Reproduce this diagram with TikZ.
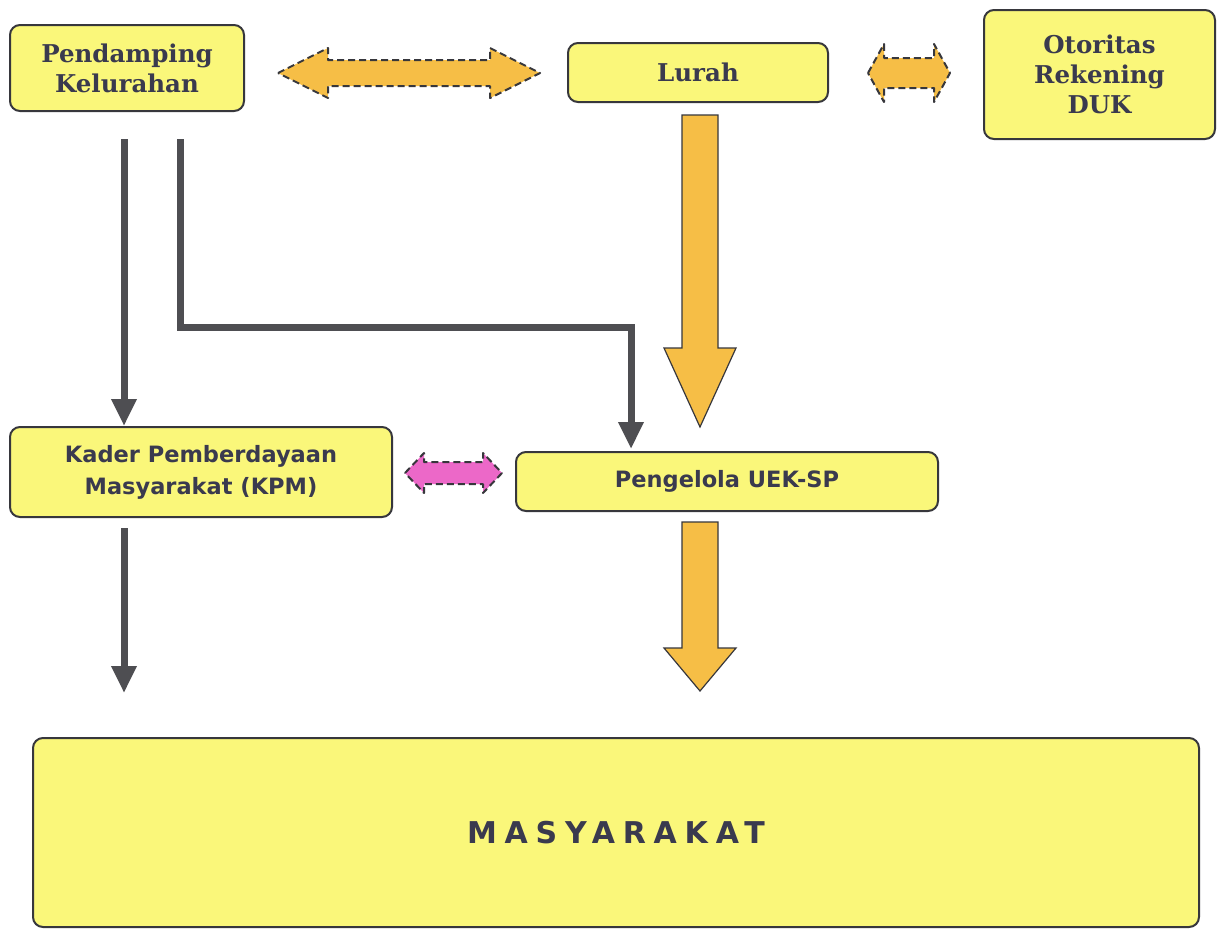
\documentclass[tikz,border=0pt]{standalone}
\usepackage{fontspec}
\setmainfont{DejaVu Serif}
\setsansfont{DejaVu Sans}
\usetikzlibrary{arrows.meta,calc}
\definecolor{boxfill}{RGB}{250,247,122}
\definecolor{boxline}{RGB}{55,55,60}
\definecolor{txt}{RGB}{58,58,78}
\definecolor{orng}{RGB}{246,190,70}
\definecolor{pnk}{RGB}{236,104,200}
\definecolor{gar}{RGB}{78,78,82}
\newcommand\hdbl[7]{%
  \filldraw[#1] (#2,#4) -- (#2+#5,#4-#7) -- (#2+#5,#4-#6) -- (#3-#5,#4-#6) -- (#3-#5,#4-#7) -- (#3,#4) -- (#3-#5,#4+#7) -- (#3-#5,#4+#6) -- (#2+#5,#4+#6) -- (#2+#5,#4+#7) -- cycle;}
\newcommand\vsgl[7]{%
  \filldraw[#1] (#2-#6,#3) -- (#2+#6,#3) -- (#2+#6,#4-#5) -- (#2+#7,#4-#5) -- (#2,#4) -- (#2-#7,#4-#5) -- (#2-#6,#4-#5) -- cycle;}
\begin{document}
\begin{tikzpicture}[x=1pt,y=-1pt,
  box/.style={draw=boxline,line width=2pt,fill=boxfill,rounded corners=10pt,
    align=center,text=txt,inner sep=0pt},
  serifbox/.style={box,font=\fontsize{24.5}{30}\selectfont\bfseries},
  sansbox/.style={box,font=\fontsize{22.5}{32}\selectfont\sffamily\bfseries},
  harrow/.style={fill=orng,draw=boxline,line width=2pt,dash pattern=on 7pt off 4pt,line join=round},
  parrow/.style={fill=pnk,draw=boxline,line width=2pt,dash pattern=on 7pt off 4pt,line join=round},
  varrow/.style={fill=orng,draw=boxline,line width=1.2pt,line join=miter},
  garrow/.style={draw=gar,line width=7pt,-{Triangle[width=24pt,length=27pt]}}
]
\useasboundingbox (0,0) rectangle (1219,930);
\fill[white] (0,0) rectangle (1219,930);

\node[serifbox,minimum width=234pt,minimum height=86pt] (pk) at (127,68) {Pendamping\\Kelurahan};
\node[serifbox,minimum width=260pt,minimum height=59pt] (lurah) at (698,72.5) {Lurah};
\node[serifbox,minimum width=231pt,minimum height=129pt] (oto) at (1099.5,74.5) {Otoritas\\Rekening\\DUK};
\node[sansbox,minimum width=382pt,minimum height=90pt] (kpm) at (201,472) {Kader Pemberdayaan\\Masyarakat (KPM)};
\node[sansbox,minimum width=422pt,minimum height=59pt] (uek) at (727,481.5) {Pengelola UEK-SP};
\node[box,minimum width=1166pt,minimum height=189pt,
  font=\fontsize{30}{34}\selectfont\sffamily\bfseries\addfontfeatures{LetterSpace=26}] (mas) at (616,832.5) {MASYARAKAT};

% block arrows
\hdbl{harrow}{278}{540}{73}{50}{13}{25}
\hdbl{harrow}{868}{950}{73}{16}{15}{29}
\hdbl{parrow}{405}{502}{473}{19}{11}{20}
\vsgl{varrow}{700}{115}{427}{79}{18}{36}
\vsgl{varrow}{700}{522}{691}{43}{18}{36}

% gray connectors
\coordinate (g1s) at ([xshift=-3pt,yshift=-27pt]pk.south);
\coordinate (g2s) at ([xshift=53pt,yshift=-27pt]pk.south);
\coordinate (g2m) at ([xshift=-96pt]uek.north);
\coordinate (g3e) at ([yshift=-175pt]kpm.south -| g1s);
\draw[garrow] (g1s) -- (g1s |- kpm.north);
\draw[garrow,line join=miter] (g2s) |- ($(g2m)+(0,-124)$) -- ([yshift=2pt]g2m);
\draw[garrow] ([yshift=-10pt]kpm.south -| g1s) -- (g3e);
\end{tikzpicture}
\end{document}
